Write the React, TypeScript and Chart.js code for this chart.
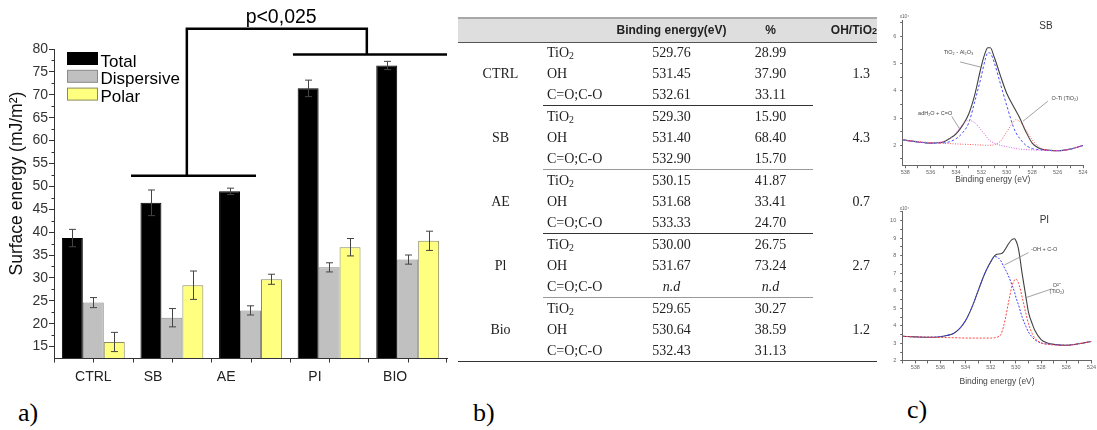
import React, { useEffect, useRef } from 'react';
import { Chart, registerables } from 'chart.js';

Chart.register(...registerables);

const SANS = '"Liberation Sans", Arial, sans-serif';
const SERIF = '"Liberation Serif", "Times New Roman", serif';

// ---------- a) surface energy ----------
const groups = ['CTRL', 'SB', 'AE', 'PI', 'BIO'];
const groupLabelPositions = [0.0, 0.76, 1.69, 2.82, 3.84];
const xTickMarks = [-0.5, 0, 0.5, 1, 1.5, 2, 2.5, 3, 3.5, 4, 4.5];
const totalEnergy = [38.7, 46.4, 48.9, 71.4, 76.4];
const totalError = [1.9, 2.8, 0.7, 1.8, 0.9];
const dispersiveEnergy = [24.6, 21.3, 22.9, 32.3, 34.0];
const dispersiveError = [1.1, 2.0, 1.0, 1.0, 1.0];
const polarEnergy = [16.0, 28.4, 29.7, 36.7, 38.1];
const polarError = [2.1, 3.1, 1.1, 1.9, 2.1];
const yMajorTicks = [15, 20, 25, 30, 35, 40, 45, 50, 55, 60, 65, 70, 75, 80];
// significance bracket, in (category index, mJ/m2) units
const bracketLines = [
  [[0.48, 52.3], [2.07, 52.3]],
  [[2.54, 78.8], [4.5, 78.8]],
  [[1.19, 52.3], [1.19, 84.4], [3.48, 84.4], [3.48, 78.8]],
];
const pValueLabel = { text: 'p<0,025', x: 2.39, y: 86.9 };
const yTitleCenter = 50.6;

// ---------- b) table ----------
const tableGroups = ['CTRL', 'SB', 'AE', 'Pl', 'Bio'];
const tableSpecies = ['TiO2', 'OH', 'C=O;C-O'];
const bindingEnergies = [
  [529.76, 531.45, 532.61],
  [529.3, 531.4, 532.9],
  [530.15, 531.68, 533.33],
  [530.0, 531.67, null],
  [529.65, 530.64, 532.43],
];
const percentages = [
  [28.99, 37.9, 33.11],
  [15.9, 68.4, 15.7],
  [41.87, 33.41, 24.7],
  [26.75, 73.24, null],
  [30.27, 38.59, 31.13],
];
const ohTiO2Ratio = ['1.3', '4.3', '0.7', '2.7', '1.2'];

// ---------- c) XPS O1s spectra ----------
const sbEnergy = [538.2, 537, 536, 535, 534.5, 534, 533.5, 533, 532.5, 532, 531.7, 531.5, 531.3, 531, 530.5, 530, 529.5, 529.3, 529, 528.5, 528, 527.5, 527, 526, 525, 524];
const sbEnvelope = [2.2, 2.12, 2.08, 2.12, 2.25, 2.42, 2.72, 3.15, 3.9, 4.92, 5.4, 5.58, 5.58, 5.25, 4.55, 3.9, 3.45, 3.28, 3.02, 2.5, 2.08, 1.9, 1.83, 1.8, 1.86, 1.99];
const sbTiAl = [2.2, 2.12, 2.08, 2.09, 2.13, 2.24, 2.45, 2.82, 3.65, 4.55, 5.15, 5.4, 5.38, 5.05, 4.25, 3.45, 2.7, 2.48, 2.26, 2.0, 1.88, 1.84, 1.82, 1.8, 1.86, 1.99];
const sbWater = [2.2, 2.12, 2.08, 2.14, 2.24, 2.46, 2.75, 2.92, 2.82, 2.55, 2.38, 2.25, 2.16, 2.08, 2.0, 1.95, 1.9, 1.88, 1.86, 1.84, 1.83, 1.82, 1.81, 1.8, 1.86, 1.99];
const sbOTi = [2.2, 2.14, 2.1, 2.07, 2.06, 2.05, 2.04, 2.03, 2.02, 2.01, 2.0, 2.0, 2.0, 2.02, 2.15, 2.5, 2.85, 2.94, 2.88, 2.57, 2.2, 1.95, 1.84, 1.8, 1.86, 1.99];

const piEnergy = [539, 538, 537, 536, 535.5, 535, 534.5, 534, 533.5, 533, 532.5, 532, 531.7, 531.5, 531.2, 531, 530.8, 530.6, 530.3, 530.1, 530, 529.8, 529.5, 529.2, 529, 528.7, 528.5, 528, 527.5, 527, 526, 525, 524];
const piEnvelope = [3.4, 3.37, 3.35, 3.38, 3.45, 3.55, 3.82, 4.3, 5.05, 6.0, 6.94, 7.66, 7.98, 8.08, 8.1, 8.2, 8.42, 8.66, 8.92, 8.96, 8.85, 8.4, 6.94, 5.62, 4.77, 4.11, 3.74, 3.21, 3.02, 2.94, 2.89, 2.98, 3.11];
const piHydroxyl = [3.4, 3.37, 3.35, 3.38, 3.45, 3.55, 3.82, 4.3, 5.05, 6.0, 6.94, 7.62, 7.94, 7.92, 7.7, 7.42, 7.15, 6.85, 6.3, 5.9, 5.62, 5.2, 4.49, 3.95, 3.64, 3.35, 3.21, 3.02, 2.96, 2.94, 2.89, 2.98, 3.11];
const piOxide = [3.4, 3.37, 3.35, 3.34, 3.33, 3.32, 3.31, 3.3, 3.3, 3.3, 3.3, 3.3, 3.32, 3.35, 3.5, 3.92, 4.55, 5.3, 6.3, 6.62, 6.66, 6.45, 5.62, 4.68, 4.11, 3.55, 3.3, 3.02, 2.95, 2.91, 2.89, 2.98, 3.11];

const sbNotes = [
  { lines: ['TiO₂ - Al₂O₃'], x: 533.8, y: 5.41, from: [533.68, 5.06], to: [531.97, 4.86] },
  { lines: ['adH₂O + C=O'], x: 535.64, y: 3.18, from: [534.33, 3.06], to: [533.68, 2.57] },
  { lines: ['O-Ti (TiO₂)'], x: 525.43, y: 3.72, from: [526.77, 3.62], to: [528.73, 2.88] },
];
const piNotes = [
  { lines: ['-OH + C-O'], x: 527.76, y: 8.36, from: [529.0, 8.17], to: [530.9, 7.47] },
  { lines: ['O²⁻', '(TiO₂)'], x: 526.75, y: 6.32, from: [527.16, 6.1], to: [529.26, 5.59] },
];

function SurfaceEnergyChart() {
  const ref = useRef<HTMLCanvasElement>(null);
  useEffect(() => {
    const errorBars = {
      id: 'errorBars',
      afterDatasetsDraw(chart: any) {
        const ctx = chart.ctx;
        const y = chart.scales.y;
        ctx.save();
        ctx.strokeStyle = '#444';
        ctx.lineWidth = 1;
        chart.data.datasets.forEach((ds: any, i: number) => {
          const meta = chart.getDatasetMeta(i);
          meta.data.forEach((bar: any, j: number) => {
            const v = ds.data[j];
            const e = ds.errors[j];
            const top = y.getPixelForValue(v + e);
            const bot = y.getPixelForValue(v - e);
            const x = Math.round(bar.x) + 0.5;
            ctx.beginPath();
            ctx.moveTo(x, top);
            ctx.lineTo(x, bot);
            ctx.moveTo(x - 3.5, top);
            ctx.lineTo(x + 3.5, top);
            ctx.moveTo(x - 3.5, bot);
            ctx.lineTo(x + 3.5, bot);
            ctx.stroke();
          });
        });
        ctx.restore();
      },
    };
    const extras = {
      id: 'extras',
      afterDraw(chart: any) {
        const ctx = chart.ctx;
        const y = chart.scales.y;
        const xs = chart.scales.xLabels;
        const area = chart.chartArea;
        ctx.save();
        ctx.strokeStyle = '#333';
        ctx.lineWidth = 1;
        // minor y ticks
        for (let k = 0; k < yMajorTicks.length - 1; k++) {
          const py = Math.round(y.getPixelForValue((yMajorTicks[k] + yMajorTicks[k + 1]) / 2)) + 0.5;
          ctx.beginPath();
          ctx.moveTo(area.left - 2.5, py);
          ctx.lineTo(area.left, py);
          ctx.stroke();
        }
        // x tick marks every half category
        xTickMarks.forEach((v) => {
          const px = Math.min(Math.round(xs.getPixelForValue(v)) + 0.5, area.right - 0.5);
          ctx.beginPath();
          ctx.moveTo(px, area.bottom);
          ctx.lineTo(px, area.bottom + 4.5);
          ctx.stroke();
        });
        // significance bracket
        ctx.strokeStyle = '#000';
        ctx.lineWidth = 2.5;
        bracketLines.forEach((pts) => {
          ctx.beginPath();
          pts.forEach(([vx, vy], n) => {
            const px = xs.getPixelForValue(vx);
            const py = y.getPixelForValue(vy);
            if (n === 0) ctx.moveTo(px, py);
            else ctx.lineTo(px, py);
          });
          ctx.stroke();
        });
        ctx.fillStyle = '#000';
        ctx.font = `19.5px ${SANS}`;
        ctx.textAlign = 'center';
        ctx.textBaseline = 'middle';
        ctx.fillText(pValueLabel.text, xs.getPixelForValue(pValueLabel.x), y.getPixelForValue(pValueLabel.y));
        // legend
        ctx.font = `17px ${SANS}`;
        ctx.textAlign = 'left';
        chart.data.datasets.forEach((ds: any, i: number) => {
          const bx = area.left + 13.5;
          const by = area.top + 3.5 + i * 17.8;
          ctx.fillStyle = ds.backgroundColor;
          ctx.fillRect(bx, by, 30, 12);
          ctx.strokeStyle = ds.borderColor;
          ctx.lineWidth = 1;
          ctx.strokeRect(bx, by, 30, 12);
          ctx.fillStyle = '#000';
          ctx.fillText(ds.label, bx + 33, by + 9.5);
        });
        // y title
        ctx.translate(17, y.getPixelForValue(yTitleCenter));
        ctx.rotate(-Math.PI / 2);
        ctx.font = `17.5px ${SANS}`;
        ctx.textAlign = 'center';
        ctx.fillStyle = '#111';
        ctx.fillText('Surface energy (mJ/m²)', 0, 0);
        ctx.restore();
      },
    };
    const common = { borderWidth: 1, categoryPercentage: 0.8, barPercentage: 1.0, xAxisID: 'x', yAxisID: 'y' };
    const chart = new Chart(ref.current as HTMLCanvasElement, {
      type: 'bar',
      data: {
        labels: groups,
        datasets: [
          { ...common, label: 'Total', data: totalEnergy, errors: totalError, backgroundColor: '#000000', borderColor: '#000000' } as any,
          { ...common, label: 'Dispersive', data: dispersiveEnergy, errors: dispersiveError, backgroundColor: '#c0c0c0', borderColor: '#8a8a8a' } as any,
          { ...common, label: 'Polar', data: polarEnergy, errors: polarError, backgroundColor: '#ffff80', borderColor: '#8a8a60' } as any,
        ],
      },
      options: {
        animation: false,
        responsive: false,
        layout: { padding: { top: 49, right: 15, left: 0, bottom: 0 } },
        plugins: { legend: { display: false }, tooltip: { enabled: false } },
        scales: {
          x: { type: 'category', display: false, offset: true },
          xLabels: {
            type: 'linear',
            position: 'bottom',
            min: -0.5,
            max: 4.5,
            offset: false,
            afterBuildTicks: (s: any) => { s.ticks = groupLabelPositions.map((v) => ({ value: v })); },
            ticks: {
              callback: (_v: any, i: number) => groups[i],
              font: { family: SANS, size: 14 },
              color: '#222',
              padding: 3,
              autoSkip: false,
              maxRotation: 0,
            },
            grid: { display: false, offset: false },
            border: { display: true, color: '#333', width: 1 },
            afterFit: (s: any) => { s.height = 32; },
          },
          y: {
            min: 12.5,
            max: 80,
            afterBuildTicks: (s: any) => { s.ticks = yMajorTicks.map((v) => ({ value: v })); },
            ticks: { font: { family: SANS, size: 14 }, color: '#333', padding: 1 },
            grid: { drawOnChartArea: false, tickLength: 5, tickColor: '#333' },
            border: { color: '#333', width: 1 },
            afterFit: (s: any) => { s.width = 54; },
          },
        },
      } as any,
      plugins: [errorBars, extras],
    });
    return () => chart.destroy();
  }, []);
  return <canvas ref={ref} width={462} height={390} style={{ position: 'absolute', left: 0, top: 0 }} />;
}

type Note = { lines: string[]; x: number; y: number; from: number[]; to: number[] };

function XpsChart(props: {
  energies: number[];
  envelope: number[];
  components: { values: number[]; color: string; dash: number[] }[];
  xMax: number;
  yMin: number;
  yMax: number;
  notes: Note[];
  name: string;
  nameAt: number[];
  left: number;
  top: number;
  width: number;
  height: number;
  padTop: number;
  padRight: number;
  yAxisWidth: number;
  xAxisHeight: number;
}) {
  const ref = useRef<HTMLCanvasElement>(null);
  useEffect(() => {
    const p = props;
    const toPts = (vals: number[]) => p.energies.map((e, i) => ({ x: e, y: vals[i] }));
    const notesPlugin = {
      id: 'notes',
      afterDraw(chart: any) {
        const ctx = chart.ctx;
        const xs = chart.scales.x;
        const ys = chart.scales.y;
        ctx.save();
        ctx.strokeStyle = '#8a8a8a';
        ctx.lineWidth = 0.8;
        ctx.fillStyle = '#444';
        ctx.font = `5.5px ${SANS}`;
        ctx.textAlign = 'center';
        ctx.textBaseline = 'middle';
        p.notes.forEach((n) => {
          ctx.beginPath();
          ctx.moveTo(xs.getPixelForValue(n.from[0]), ys.getPixelForValue(n.from[1]));
          ctx.lineTo(xs.getPixelForValue(n.to[0]), ys.getPixelForValue(n.to[1]));
          ctx.stroke();
          n.lines.forEach((t, k) => {
            ctx.fillText(t, xs.getPixelForValue(n.x), ys.getPixelForValue(n.y) + k * 6.5);
          });
        });
        ctx.font = `10px ${SANS}`;
        ctx.fillStyle = '#333';
        ctx.fillText(p.name, xs.getPixelForValue(p.nameAt[0]), ys.getPixelForValue(p.nameAt[1]));
        ctx.font = `4.5px ${SANS}`;
        ctx.fillStyle = '#555';
        ctx.textAlign = 'left';
        ctx.fillText('x10⁴', chart.chartArea.left - 3, chart.chartArea.top - 3);
        ctx.restore();
      },
    };
    const tickFont = { family: SANS, size: 5.5 };
    const chart = new Chart(ref.current as HTMLCanvasElement, {
      type: 'line',
      data: {
        datasets: [
          ...p.components.map((c) => ({
            data: toPts(c.values),
            borderColor: c.color,
            borderDash: c.dash,
            borderWidth: 1,
          })),
          { data: toPts(p.envelope), borderColor: '#404040', borderWidth: 1.1 },
        ],
      },
      options: {
        animation: false,
        responsive: false,
        layout: { padding: { top: p.padTop, right: p.padRight, left: 0, bottom: 0 } },
        plugins: { legend: { display: false }, tooltip: { enabled: false } },
        elements: { point: { radius: 0 }, line: { cubicInterpolationMode: 'monotone' } },
        scales: {
          x: {
            type: 'linear',
            reverse: true,
            min: 524,
            max: p.xMax,
            ticks: {
              stepSize: 1,
              includeBounds: false,
              autoSkip: false,
              maxRotation: 0,
              callback: (v: any) => (Number(v) % 2 === 0 ? String(v) : ''),
              font: tickFont,
              color: '#666',
              padding: 1,
            },
            grid: { drawOnChartArea: false, tickLength: 2.5, tickColor: '#666' },
            border: { color: '#666' },
            title: { display: true, text: 'Binding energy (eV)', font: { family: SANS, size: 8.5 }, color: '#444', padding: 0 },
            afterFit: (s: any) => { s.height = p.xAxisHeight; },
          },
          y: {
            min: p.yMin,
            max: p.yMax,
            ticks: {
              stepSize: 0.5,
              includeBounds: false,
              autoSkip: false,
              callback: (v: any) => (Number.isInteger(Number(v)) ? String(v) : ''),
              font: tickFont,
              color: '#666',
              padding: 4,
            },
            grid: { drawOnChartArea: false, tickLength: 2.5, tickColor: '#666' },
            border: { color: '#666' },
            afterFit: (s: any) => { s.width = p.yAxisWidth; },
          },
        },
      } as any,
      plugins: [notesPlugin],
    });
    return () => chart.destroy();
  }, []);
  return (
    <canvas
      ref={ref}
      width={props.width}
      height={props.height}
      style={{ position: 'absolute', left: props.left, top: props.top }}
    />
  );
}

function Species({ name }: { name: string }) {
  if (name === 'TiO2') {
    return (
      <span>
        TiO<span style={{ fontSize: '70%', verticalAlign: '-2px', lineHeight: 0 }}>2</span>
      </span>
    );
  }
  return <span>{name}</span>;
}

function XpsTable() {
  const colW = [85, 72, 113, 85, 64];
  const fmt = (v: number | null) =>
    v === null ? <i>n.d</i> : v.toFixed(2);
  const rows: any[] = [];
  tableGroups.forEach((g, gi) => {
    tableSpecies.forEach((sp, si) => {
      const last = si === 2;
      const isEnd = gi === tableGroups.length - 1;
      const sepColor = gi % 2 === 0 ? '#333' : '#9a9a9a';
      const midBorder = last ? (isEnd ? '1.5px solid #333' : `1px solid ${sepColor}`) : 'none';
      const sideBorder = isEnd ? '1.5px solid #333' : 'none';
      rows.push(
        <tr key={`${gi}-${si}`} style={{ height: 21.33 }}>
          {si === 0 && (
            <td rowSpan={3} style={{ textAlign: 'center', padding: 0, borderBottom: sideBorder }}>
              {g}
            </td>
          )}
          <td style={{ paddingLeft: 4, paddingTop: 0, paddingBottom: 0, borderBottom: midBorder }}>
            <Species name={sp} />
          </td>
          <td style={{ textAlign: 'center', padding: 0, borderBottom: midBorder }}>{fmt(bindingEnergies[gi][si])}</td>
          <td style={{ textAlign: 'center', padding: 0, borderBottom: midBorder }}>{fmt(percentages[gi][si])}</td>
          {si === 0 && (
            <td rowSpan={3} style={{ textAlign: 'right', padding: 0, paddingRight: 7, borderBottom: sideBorder }}>
              {ohTiO2Ratio[gi]}
            </td>
          )}
        </tr>
      );
    });
  });
  const th = { fontFamily: SANS, fontWeight: 700, fontSize: 12, padding: 0, color: '#222' } as const;
  return (
    <table
      style={{
        position: 'absolute',
        left: 458,
        top: 17,
        width: 419,
        borderCollapse: 'collapse',
        tableLayout: 'fixed',
        fontFamily: SERIF,
        fontSize: 14,
        color: '#222',
        lineHeight: '20px',
      }}
    >
      <colgroup>
        {colW.map((w, i) => (
          <col key={i} style={{ width: w }} />
        ))}
      </colgroup>
      <thead>
        <tr style={{ height: 24, background: '#dedede', borderTop: '2px solid #a8a8a8', borderBottom: '1px solid #555' }}>
          <th style={th}></th>
          <th style={th}></th>
          <th style={{ ...th, textAlign: 'center' }}>Binding energy(eV)</th>
          <th style={{ ...th, textAlign: 'center' }}>%</th>
          <th style={{ ...th, textAlign: 'right' }}>
            OH/TiO<span style={{ fontSize: '75%' }}>2</span>
          </th>
        </tr>
      </thead>
      <tbody>{rows}</tbody>
    </table>
  );
}

const panelLabel = (text: string, left: number, top: number) => (
  <div
    style={{ position: 'absolute', left, top, fontFamily: SERIF, fontSize: 26, lineHeight: '26px', color: '#000' }}
  >
    {text}
  </div>
);

export default function App() {
  return (
    <div style={{ position: 'absolute', left: 0, top: 0, width: 1097, height: 430, background: '#fff', overflow: 'hidden' }}>
      <SurfaceEnergyChart />
      <XpsTable />
      <XpsChart
        energies={sbEnergy}
        envelope={sbEnvelope}
        components={[
          { values: sbWater, color: '#dd5fdd', dash: [1, 1.5] },
          { values: sbOTi, color: '#ff5a5a', dash: [1, 1.5] },
          { values: sbTiAl, color: '#4d4dff', dash: [2.5, 2] },
        ]}
        xMax={538.2}
        yMin={1.25}
        yMax={6.6}
        notes={sbNotes}
        name="SB"
        nameAt={[526.92, 6.36]}
        left={880}
        top={0}
        width={217}
        height={185}
        padTop={20}
        padRight={14}
        yAxisWidth={22.7}
        xAxisHeight={19.3}
      />
      <XpsChart
        energies={piEnergy}
        envelope={piEnvelope}
        components={[
          { values: piOxide, color: '#ff4545', dash: [2, 1.5] },
          { values: piHydroxyl, color: '#3d3dff', dash: [2, 1.5] },
        ]}
        xMax={539}
        yMin={2}
        yMax={10.5}
        notes={piNotes}
        name="PI"
        nameAt={[527.74, 10.0]}
        left={880}
        top={190}
        width={217}
        height={197}
        padTop={21.7}
        padRight={3.7}
        yAxisWidth={22.7}
        xAxisHeight={26.1}
      />
      {panelLabel('a)', 18, 400)}
      {panelLabel('b)', 473, 400)}
      {panelLabel('c)', 907, 397)}
    </div>
  );
}
